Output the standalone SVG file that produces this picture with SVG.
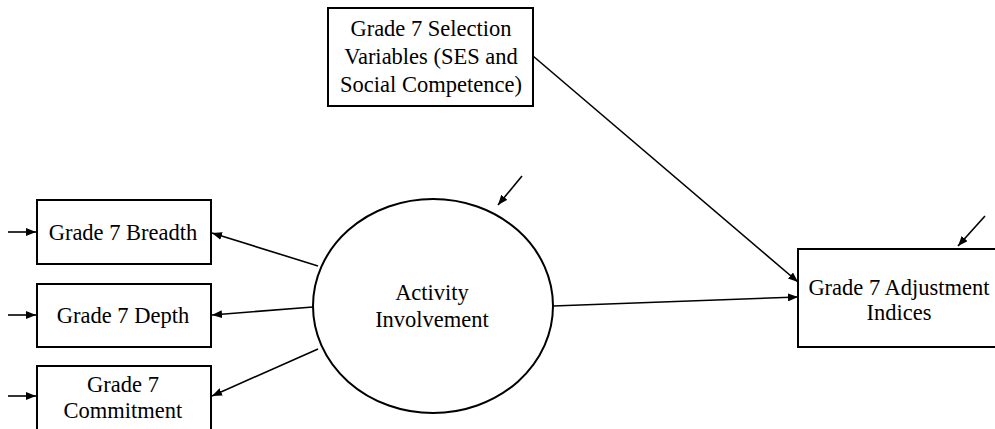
<svg xmlns="http://www.w3.org/2000/svg" width="995" height="429" viewBox="0 0 995 429">
  <style>
    .box { fill: #fff; stroke: #000; stroke-width: 2; }
    .lbl { font-family: "Liberation Serif", "Times New Roman", serif; font-size: 22.5px; fill: #000; text-anchor: middle; }
    .edge { stroke: #000; stroke-width: 1.6; fill: none; marker-end: url(#arr); }
  </style>
  <defs>
    <marker id="arr" viewBox="0 0 10 8" refX="10" refY="4" markerWidth="10" markerHeight="8" markerUnits="userSpaceOnUse" orient="auto">
      <path d="M0,0 L10,4 L0,8 Z" fill="#000"/>
    </marker>
  </defs>

  <g id="connectors">
    <line class="edge" x1="8" y1="232" x2="36" y2="232"/>
    <line class="edge" x1="8" y1="315" x2="36" y2="315"/>
    <line class="edge" x1="8" y1="396" x2="36" y2="396"/>
    <line class="edge" x1="318" y1="266" x2="212" y2="233"/>
    <line class="edge" x1="313" y1="307" x2="212" y2="315"/>
    <line class="edge" x1="318" y1="349" x2="212" y2="396"/>
    <line class="edge" x1="553" y1="306" x2="798" y2="297"/>
    <line class="edge" x1="533" y1="56" x2="798" y2="282"/>
    <line class="edge" x1="522" y1="176" x2="498" y2="205"/>
    <line class="edge" x1="985" y1="216" x2="958" y2="246"/>
  </g>

  <g id="selection">
    <rect class="box" x="328" y="8" width="205" height="98"/>
    <text class="lbl" x="431" y="36">Grade 7 Selection</text>
    <text class="lbl" x="431" y="64">Variables (SES and</text>
    <text class="lbl" x="431" y="92">Social Competence)</text>
  </g>

  <g id="breadth">
    <rect class="box" x="37" y="200" width="174" height="64"/>
    <text class="lbl" x="123" y="240">Grade 7 Breadth</text>
  </g>

  <g id="depth">
    <rect class="box" x="37" y="284" width="174" height="63"/>
    <text class="lbl" x="123" y="323">Grade 7 Depth</text>
  </g>

  <g id="commitment">
    <rect class="box" x="37" y="366" width="174" height="80"/>
    <text class="lbl" x="123" y="392">Grade 7</text>
    <text class="lbl" x="123" y="418">Commitment</text>
  </g>

  <g id="activity">
    <ellipse cx="433" cy="306" rx="120" ry="107" fill="#fff" stroke="#000" stroke-width="2"/>
    <text class="lbl" x="432" y="300">Activity</text>
    <text class="lbl" x="432" y="327">Involvement</text>
  </g>

  <g id="adjustment">
    <rect class="box" x="798" y="249" width="210" height="98"/>
    <text class="lbl" x="899" y="295">Grade 7 Adjustment</text>
    <text class="lbl" x="899" y="320">Indices</text>
  </g>
</svg>
